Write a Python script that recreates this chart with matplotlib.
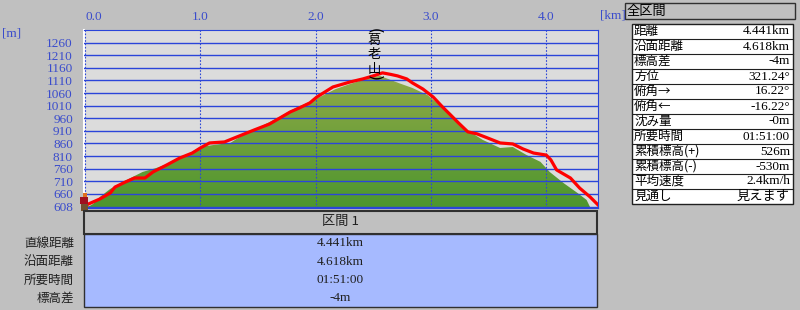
import numpy as np
import matplotlib
matplotlib.use("Agg")
import matplotlib.pyplot as plt
from matplotlib.patches import Rectangle
from matplotlib.colors import LinearSegmentedColormap

W, H = 800, 310

# GPS track (red) : distance [km], elevation [m]
track_km = [0.00, 0.03, 0.13, 0.22, 0.26, 0.35, 0.43, 0.52, 0.59, 0.71, 0.82, 0.93,
            1.00, 1.08, 1.21, 1.34, 1.47, 1.60, 1.69, 1.78, 1.86, 1.95, 2.01, 2.15,
            2.30, 2.41, 2.50, 2.58, 2.65, 2.71, 2.79, 2.84, 2.93, 3.02, 3.10, 3.17,
            3.24, 3.32, 3.40, 3.49, 3.60, 3.71, 3.80, 3.89, 4.00, 4.04, 4.09, 4.21,
            4.29, 4.38, 4.45]
track_m = [612, 620, 640, 664, 687, 707, 723, 723, 747, 775, 802, 822,
           842, 862, 866, 890, 914, 937, 961, 985, 1001, 1021, 1044, 1084,
           1104, 1116, 1128, 1140, 1134, 1128, 1116, 1100, 1076, 1044, 1005, 973,
           941, 906, 898, 882, 862, 858, 838, 822, 814, 795, 755, 723,
           683, 648, 616]

# terrain profile (green)
ground_km = [0.00, 0.04, 0.07, 0.13, 0.22, 0.36, 0.50, 0.62, 0.74, 0.88, 1.00,
             1.13, 1.26, 1.34, 1.47, 1.60, 1.69, 1.78, 1.86, 1.95, 2.04, 2.17,
             2.30, 2.41, 2.50, 2.56, 2.65, 2.73, 2.84, 2.97, 3.02, 3.17, 3.31,
             3.45, 3.60, 3.71, 3.83, 3.95, 4.03, 4.15, 4.27, 4.35, 4.38]
ground_m = [608, 612, 620, 648, 680, 715, 747, 763, 783, 814, 846,
            855, 862, 885, 915, 945, 966, 990, 1008, 1025, 1045, 1075,
            1096, 1112, 1124, 1128, 1112, 1098, 1080, 1052, 1033, 981, 914,
            874, 842, 846, 814, 787, 747, 703, 664, 636, 608]

x_ticks = [0, 1, 2, 3, 4]
y_ticks = [608, 660, 710, 760, 810, 860, 910, 960, 1010, 1060, 1110, 1160, 1210, 1260]

peak_name = "葛老山"
peak_km = 2.51
peak_m = 1120

section_title = "区間 1"
section_rows = ["直線距離", "沿面距離", "所要時間", "標高差"]
section_vals = ["4.441km", "4.618km", "01:51:00", "-4m"]

total_title = "全区間"
total_rows = ["距離", "沿面距離", "標高差", "方位", "俯角→", "俯角←", "沈み量",
              "所要時間", "累積標高(+)", "累積標高(-)", "平均速度", "見通し"]
total_vals = ["4.441km", "4.618km", "-4m", "321.24°", "16.22°", "-16.22°", "-0m",
              "01:51:00", "526m", "-530m", "2.4km/h", "見えます"]

BLUE = "#2b45d9"
LBLUE = "#3a4ccc"
JP = ["Noto Sans CJK JP", "DejaVu Sans"]
NUM = ["Liberation Serif", "Noto Sans CJK JP"]


def fx(x):
    return x / W


def fy(y):
    return 1 - y / H


def box(fig, x0, y0, x1, y1, face, edge="#303030", lw=1.0):
    fig.patches.append(Rectangle((fx(x0), fy(y1)), fx(x1) - fx(x0), fy(y0) - fy(y1),
                                 transform=fig.transFigure, facecolor=face,
                                 edgecolor=edge, lw=lw))


fig = plt.figure(figsize=(W / 100, H / 100), dpi=100)
fig.patch.set_facecolor("#c0c0c0")

ax = fig.add_axes([fx(84), fy(208), 514 / W, 178 / H])
ax.set_facecolor("#dcdcdc")
xmin, xmax = -0.0087, 4.449
ymin, ymax = 604, 1310

# terrain with vertical gradient
cmap = LinearSegmentedColormap.from_list("g", ["#4d962e", "#92aa48"])
grad = np.linspace(0, 1, 256).reshape(-1, 1)
im = ax.imshow(grad, cmap=cmap, origin="lower", aspect="auto",
               extent=[xmin, xmax, 606, 1140], zorder=2)
poly, = ax.fill(ground_km + [ground_km[-1], ground_km[0]],
                ground_m + [ymin, ymin], facecolor="none", edgecolor="none")
im.set_clip_path(poly)

for m in y_ticks:
    ax.axhline(m, color=BLUE, lw=1.0, zorder=3)
for k in x_ticks:
    ax.axvline(k, color=BLUE, lw=0.8, ls=(0, (1.5, 1.5)), zorder=3)

ax.plot(track_km, track_m, color="#ff0000", lw=2.3, zorder=4)

ax.set_xlim(xmin, xmax)
ax.set_ylim(ymin, ymax)

ax.xaxis.tick_top()
ax.set_xticks(x_ticks, labels=[f"{k:.1f}" for k in x_ticks])
ax.set_yticks(y_ticks, labels=[str(m) for m in y_ticks])
ax.tick_params(axis="x", length=0, pad=5, labelsize=9.5, labelcolor=LBLUE)
ax.tick_params(axis="y", length=0, pad=8, labelsize=9.5, labelcolor=LBLUE)
for lab in ax.get_xticklabels() + ax.get_yticklabels():
    lab.set_family(NUM)
ax.get_xticklabels()[0].set_ha("left")

for side in ["top", "right", "bottom"]:
    ax.spines[side].set_color(BLUE)
ax.spines["left"].set_color("white")
ax.spines["left"].set_linewidth(1.5)

fig.text(fx(600), fy(16), "[km]", color=LBLUE, fontsize=9.5, family=NUM, va="center")
fig.text(fx(2), fy(33), "[m]", color=LBLUE, fontsize=9.5, family=NUM, va="center")

# peak name, written vertically between turned brackets
ax.annotate("\n".join(peak_name), xy=(peak_km, peak_m), xytext=(0, 23),
            textcoords="offset pixels", ha="center", va="center", fontsize=9.5,
            linespacing=1.15, family=JP, color="black", zorder=5,
            annotation_clip=False)
ax.annotate("(", xy=(peak_km, peak_m), xytext=(0, 47), textcoords="offset pixels",
            ha="center", va="center", rotation=-90, fontsize=11, family="DejaVu Sans",
            color="black", zorder=5, annotation_clip=False)
ax.annotate(")", xy=(peak_km, peak_m), xytext=(0, 0), textcoords="offset pixels",
            ha="center", va="center", rotation=-90, fontsize=11, family="DejaVu Sans",
            color="black", zorder=5, annotation_clip=False)

# walker icon at start
fig.patches.append(Rectangle((fx(83), fy(197)), 4 / W, 4 / H, transform=fig.transFigure,
                             facecolor="#e07020", edgecolor="none"))
fig.patches.append(Rectangle((fx(80), fy(204)), 8 / W, 7 / H, transform=fig.transFigure,
                             facecolor="#a01020", edgecolor="none"))
fig.patches.append(Rectangle((fx(81), fy(211)), 7 / W, 7 / H, transform=fig.transFigure,
                             facecolor="#705030", edgecolor="none"))

# section panel under the chart
box(fig, 84, 211, 597, 234, "#c0c0c0", lw=1.5)
fig.text(fx(340), fy(222), section_title, ha="center", va="center",
         fontsize=9.5, family=JP, color="#202020")
box(fig, 84, 234, 597, 307, "#a6baff", lw=1.0)
row_y = [243, 262, 280, 298]
for lab, val, y in zip(section_rows, section_vals, row_y):
    fig.text(fx(74), fy(y), lab, ha="right", va="center", fontsize=9,
             family=JP, color="#202020")
    fig.text(fx(340), fy(y), val, ha="center", va="center", fontsize=9.5,
             family=NUM, color="#202020")

# summary table on the right
box(fig, 625, 3, 795, 19, "#c0c0c0", lw=1.0)
fig.text(fx(627), fy(11), total_title, ha="left", va="center", fontsize=9.5,
         family=JP, color="black")
top, rh = 24, 15
box(fig, 632, top, 793, top + rh * len(total_rows), "white", edge="#202020", lw=1.0)
for i, (lab, val) in enumerate(zip(total_rows, total_vals)):
    yc = top + rh * i + rh / 2
    if i > 0:
        fig.add_artist(plt.Line2D([fx(632), fx(793)], [fy(top + rh * i)] * 2,
                                  transform=fig.transFigure, color="#202020", lw=0.8))
    fig.text(fx(634), fy(yc), lab, ha="left", va="center", fontsize=9,
             family=JP, color="black")
    fig.text(fx(790), fy(yc), val, ha="right", va="center", fontsize=9.5,
             family=NUM, color="black")

fig.savefig("out.png", dpi=100, facecolor=fig.get_facecolor())
